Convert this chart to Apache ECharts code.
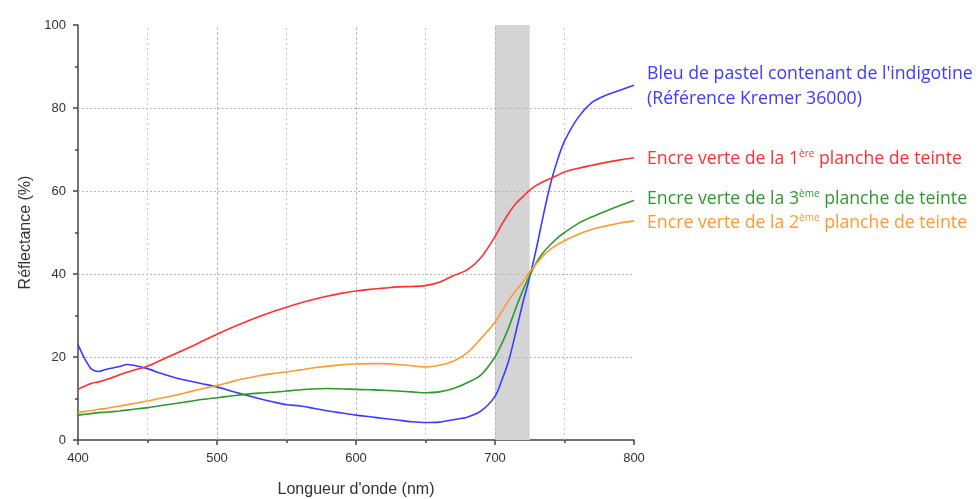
<!DOCTYPE html>
<html><head><meta charset="utf-8">
<script src="https://cdn.jsdelivr.net/npm/echarts@6/dist/echarts.min.js"></script>
<style>html,body{margin:0;padding:0;background:#fff}#c{width:979px;height:499px}</style>
</head><body><div id="c"></div>
<script>
const wavelengths = [400,405,410,415,420,430,435,440,450,460,470,480,490,500,510,520,530,540,550,560,570,580,590,600,610,620,630,640,650,660,670,680,690,700,705,710,715,720,725,730,735,740,745,750,760,770,780,790,800];
const blueValues = [23.0,19.5,17.0,16.5,17.0,17.7,18.2,18.0,17.2,16.0,15.0,14.2,13.5,12.8,11.8,10.9,10.0,9.2,8.5,8.2,7.6,7.0,6.5,6.0,5.6,5.2,4.8,4.4,4.2,4.3,4.9,5.5,7.0,10.5,14.5,19.3,26.0,33.0,39.3,46.5,54.5,61.8,67.5,72.0,77.8,81.4,83.1,84.3,85.5];
const redValues = [12.2,13.0,13.7,14.0,14.5,15.7,16.3,16.8,17.8,19.3,20.8,22.3,23.9,25.5,27.0,28.4,29.7,30.9,32.0,33.0,33.9,34.7,35.4,35.9,36.3,36.6,36.9,37.0,37.2,38.0,39.6,41.0,44.0,49.0,52.0,54.7,57.0,58.6,60.2,61.4,62.3,63.0,63.8,64.6,65.5,66.2,66.9,67.5,68.0];
const green3Values = [6.0,6.2,6.4,6.6,6.7,7.0,7.2,7.4,7.8,8.3,8.8,9.3,9.8,10.2,10.6,11.0,11.3,11.5,11.8,12.1,12.3,12.4,12.3,12.2,12.1,12.0,11.8,11.6,11.4,11.6,12.4,13.8,15.7,20.0,23.3,27.2,31.8,36.0,39.7,42.9,45.3,47.1,48.7,50.0,52.2,53.8,55.2,56.5,57.7];
const orange2Values = [6.6,6.9,7.1,7.4,7.6,8.2,8.5,8.8,9.4,10.1,10.8,11.6,12.4,13.1,14.0,14.8,15.5,16.0,16.4,16.9,17.4,17.8,18.1,18.3,18.4,18.4,18.2,17.9,17.6,18.0,19.0,21.0,24.5,28.4,31.0,33.7,36.0,38.0,40.5,42.6,44.5,46.0,47.1,48.0,49.6,50.8,51.6,52.3,52.8];
const xTicks = [400,500,600,700,800];
const yTicks = [0,20,40,60,80,100];
const hGrid = [20,40,60,80];
const vGridMajor = [500,600,700];
const vGridMinor = [450,550,650,750];
const band = [700,725];

const pair = v => wavelengths.map((w,i)=>[w,v[i]]);
const chart = echarts.init(document.getElementById('c'));
const fontF = '"Liberation Sans", Arial, sans-serif';
const legF = '"Open Sans", "Noto Sans", sans-serif';
function ser(name, data, color){
  return {type:'line', name, data:pair(data), showSymbol:false, smooth:0.3,
    lineStyle:{color, width:1.6}, itemStyle:{color}, z:5};
}
function legendText(top, main, sup, rest, color){
  return {type:'text', left:647, top, style:{
    text:'{n|'+main+'}{s|'+sup+'}{n|'+rest+'}', fill:color,
    rich:{n:{fontFamily:legF, fontSize:17.7, fill:color},
          s:{fontFamily:legF, fontSize:10, fill:color, verticalAlign:'top', padding:[0,0,9,0]}}}};
}
chart.setOption({
  animation:false,
  grid:{left:78, top:25, right:345, bottom:59, containLabel:false, outerBoundsMode:'none'},
  xAxis:{type:'value', min:400, max:800, interval:100,
    name:"Longueur d'onde (nm)", nameLocation:'middle', nameGap:42,
    nameTextStyle:{fontFamily:fontF, fontSize:16, color:'#333'},
    axisLine:{lineStyle:{color:'#444', width:1.5}},
    axisTick:{show:true, length:5, lineStyle:{color:'#444', width:1.5}},
    minorTick:{show:true, splitNumber:2, length:3, lineStyle:{color:'#444', width:1.5}},
    axisLabel:{fontFamily:fontF, fontSize:13, color:'#333', margin:12,
      formatter:v=>xTicks.includes(v)?String(v):''},
    splitLine:{show:false}},
  yAxis:{type:'value', min:0, max:100, interval:20,
    name:'Réflectance (%)', nameLocation:'middle', nameGap:40,
    nameTextStyle:{fontFamily:fontF, fontSize:16, color:'#333'},
    axisLine:{show:true, lineStyle:{color:'#444', width:1.5}},
    axisTick:{show:true, length:5, lineStyle:{color:'#444', width:1.5}},
    minorTick:{show:true, splitNumber:2, length:3, lineStyle:{color:'#444', width:1.5}},
    axisLabel:{fontFamily:fontF, fontSize:13, color:'#333', margin:12,
      formatter:v=>yTicks.includes(v)?String(v):''},
    splitLine:{show:false}},
  series:[
    {type:'line', data:[], silent:true,
      markArea:{silent:true, itemStyle:{color:'#d4d4d4'}, data:[[{xAxis:band[0]},{xAxis:band[1]}]]},
      markLine:{silent:true, symbol:'none', label:{show:false},
        data:[
          ...hGrid.map(v=>({yAxis:v, lineStyle:{color:'#b8b8b8', type:[2,2], width:1}})),
          ...vGridMajor.map(v=>({xAxis:v, lineStyle:{color:'#b8b8b8', type:[3,2], width:1}})),
          ...vGridMinor.map(v=>({xAxis:v, lineStyle:{color:'#bcc0ff', type:[2,3], width:1}}))
        ]}, z:1},
    ser('Bleu', blueValues, '#3b3bff'),
    ser('1ère', redValues, '#ff3030'),
    ser('3ème', green3Values, '#2e9a2e'),
    ser('2ème', orange2Values, '#ff9933')
  ],
  graphic:[
    {type:'text', left:647, top:65, style:{text:"Bleu de pastel contenant de l'indigotine", fill:'#3b3bff', font:'17.7px '+legF}},
    {type:'text', left:647, top:90, style:{text:"(Référence Kremer 36000)", fill:'#3b3bff', font:'17.7px '+legF}},
    legendText(149, 'Encre verte de la 1', 'ère', ' planche de teinte', '#ff3030'),
    legendText(189, 'Encre verte de la 3', 'ème', ' planche de teinte', '#2e9a2e'),
    legendText(213, 'Encre verte de la 2', 'ème', ' planche de teinte', '#ff9933')
  ]
});
</script></body></html>
